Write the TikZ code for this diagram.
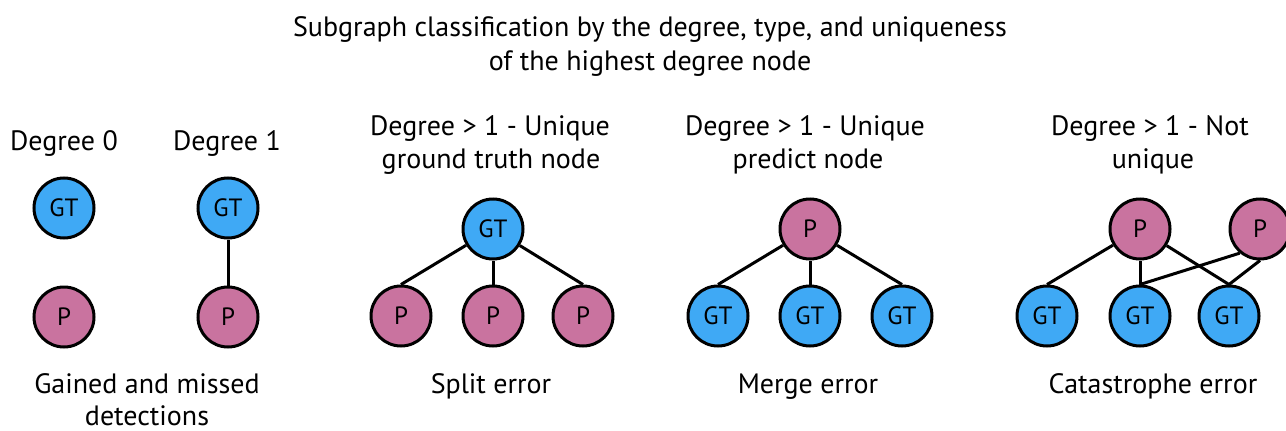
\documentclass[tikz,border=0pt]{standalone}
\usepackage{fontspec}
\setmainfont{PT Sans}
\definecolor{gtblue}{HTML}{3FA9F5}
\definecolor{ppink}{HTML}{C9739F}
\begin{document}
\begin{tikzpicture}[x=1pt,y=-1pt,
  nd/.style={circle,draw=black,line width=3pt,minimum size=60pt,inner sep=0pt,font=\fontsize{25}{30}\selectfont},
  gt/.style={nd,fill=gtblue},
  pp/.style={nd,fill=ppink},
  lbl/.style={anchor=base,inner sep=0pt,font=\fontsize{28}{34}\selectfont},
  edge/.style={line width=3pt}]
\useasboundingbox (0,0) rectangle (1286,431);
\node[lbl] (title1) at (650,36) {Subgraph classification by the degree, type, and uniqueness};
\node[lbl] (title2) at (650,70) {of the highest degree node};
% group 1
\node[lbl] (l0) at (64,150) {Degree 0};
\node[lbl] (l1) at (227,150) {Degree 1};
\node[gt] (a1) at (64,208) {GT};
\node[pp] (a2) at (64,317) {P};
\node[gt] (b1) at (228,208) {GT};
\node[pp] (b2) at (228,317) {P};
\draw[edge] (b1) -- (b2);
\node[lbl] (c1a) at (147,393) {Gained and missed};
\node[lbl] (c1b) at (147,425) {detections};
% split
\node[lbl] (l2a) at (490,135) {Degree > 1 - Unique};
\node[lbl] (l2b) at (491,168) {ground truth node};
\node[gt] (s0) at (493,229) {GT};
\node[pp] (s1) at (401,316) {P};
\node[pp] (s2) at (493,316) {P};
\node[pp] (s3) at (583,316) {P};
\draw[edge] (s0) -- (s1.north); \draw[edge] (s0) -- (s2); \draw[edge] (s0) -- (s3.north);
\node[lbl] (c2) at (491,393) {Split error};
% merge
\node[lbl] (l3a) at (805,135) {Degree > 1 - Unique};
\node[lbl] (l3b) at (808,168) {predict node};
\node[pp] (m0) at (810,229) {P};
\node[gt] (m1) at (718,316) {GT};
\node[gt] (m2) at (810,316) {GT};
\node[gt] (m3) at (902,316) {GT};
\draw[edge] (m0) -- (m1.north); \draw[edge] (m0) -- (m2); \draw[edge] (m0) -- (m3.north);
\node[lbl] (c3) at (808,393) {Merge error};
% catastrophe
\node[lbl] (l4a) at (1150,135) {Degree > 1 - Not};
\node[lbl] (l4b) at (1153,168) {unique};
\node[pp] (k0) at (1140,229) {P};
\node[pp] (k4) at (1260,229) {P};
\node[gt] (k1) at (1047,316) {GT};
\node[gt] (k2) at (1140,316) {GT};
\node[gt] (k3) at (1229,316) {GT};
\draw[edge] (k0) -- (k1.north); \draw[edge] (k0) -- (k2); \draw[edge] (k0) -- (k3.north);
\draw[edge] (k4.230) -- (k2.north); \draw[edge] (k4.south) -- (k3.north);
\node[lbl] (c4) at (1153,393) {Catastrophe error};
\end{tikzpicture}
\end{document}
